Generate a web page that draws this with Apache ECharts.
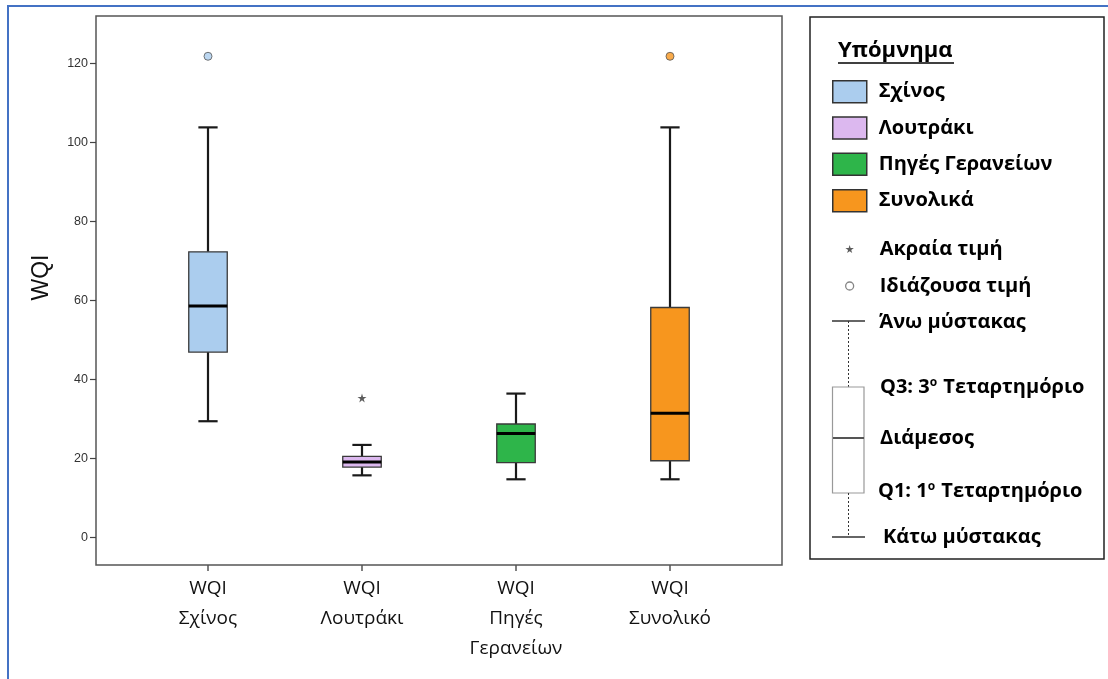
<!DOCTYPE html>
<html>
<head>
<meta charset="utf-8">
<script src="https://cdn.jsdelivr.net/npm/echarts@6/dist/echarts.min.js"></script>
<style>html,body{margin:0;padding:0;background:#fff;}#c{width:1108px;height:679px;}</style>
</head>
<body>
<div id="c"></div>
<script>
// ---- data ----
var categories = ['WQI\nΣχίνος', 'WQI\nΛουτράκι', 'WQI\nΠηγές\nΓερανείων', 'WQI\nΣυνολικό'];
var seriesNames = ['Σχίνος', 'Λουτράκι', 'Πηγές Γερανείων', 'Συνολικά'];
// [min, Q1, median, Q3, max]
var boxSchinos   = [29.4, 46.9, 58.6, 72.3, 103.8];
var boxLoutraki  = [15.7, 17.8, 19.1, 20.5, 23.4];
var boxGeraneia  = [14.7, 18.9, 26.3, 28.7, 36.4];
var boxTotal     = [14.7, 19.4, 31.4, 58.2, 103.8];
var outlierValues = [[0, 121.8], [3, 121.8]];   // Ιδιάζουσα τιμή
var extremeValues = [[1, 35.3]];                // Ακραία τιμή
var yTicks = [0, 20, 40, 60, 80, 100, 120];
var yMin = -7, yMax = 132;

var boxes = [boxSchinos, boxLoutraki, boxGeraneia, boxTotal];
var fills = ['#abcdee', '#dcb8ef', '#2eb54a', '#f7961e'];
var outlierColors = ['#abcdee', '#f7961e'];

var starPath = 'path://M50,0 L61,35 L98,35 L68,57 L79,91 L50,70 L21,91 L32,57 L2,35 L39,35 Z';

function renderBox(params, api) {
  var idx = api.value(0);
  var vmin = api.value(1), q1 = api.value(2), med = api.value(3), q3 = api.value(4), vmax = api.value(5);
  var band = api.size([1, 0])[0];
  var bw = band * 0.25;
  var cw = bw * 0.5;
  var pMin = api.coord([idx, vmin]), pQ1 = api.coord([idx, q1]), pMed = api.coord([idx, med]);
  var pQ3 = api.coord([idx, q3]), pMax = api.coord([idx, vmax]);
  var x = pMin[0];
  var fill = api.visual('color');
  var lw = 2.2, lc = '#1a1a1a';
  return {
    type: 'group',
    children: [
      {type: 'line', shape: {x1: x, y1: pQ1[1], x2: x, y2: pMin[1]}, style: {stroke: lc, lineWidth: lw}},
      {type: 'line', shape: {x1: x, y1: pQ3[1], x2: x, y2: pMax[1]}, style: {stroke: lc, lineWidth: lw}},
      {type: 'line', shape: {x1: x - cw / 2, y1: pMin[1], x2: x + cw / 2, y2: pMin[1]}, style: {stroke: lc, lineWidth: lw}},
      {type: 'line', shape: {x1: x - cw / 2, y1: pMax[1], x2: x + cw / 2, y2: pMax[1]}, style: {stroke: lc, lineWidth: lw}},
      {type: 'rect', shape: {x: x - bw / 2, y: pQ3[1], width: bw, height: pQ1[1] - pQ3[1]},
        style: {fill: fill, stroke: '#3a3a3a', lineWidth: 1.3}},
      {type: 'line', shape: {x1: x - bw / 2, y1: pMed[1], x2: x + bw / 2, y2: pMed[1]}, style: {stroke: '#000', lineWidth: 3}}
    ]
  };
}

var series = [];
for (var i = 0; i < 4; i++) {
  series.push({
    name: seriesNames[i],
    type: 'custom',
    xAxisIndex: 1, yAxisIndex: 1,
    renderItem: renderBox,
    itemStyle: {color: fills[i]},
    encode: {x: 0, y: [1, 2, 3, 4, 5]},
    data: [[i].concat(boxes[i])],
    z: 3
  });
}
series.push({
  name: 'Ιδιάζουσα τιμή',
  type: 'scatter',
  xAxisIndex: 1, yAxisIndex: 1,
  symbol: 'circle', symbolSize: 8,
  data: outlierValues.map(function (d, k) {
    return {value: d, itemStyle: {color: outlierColors[k], borderColor: '#555', borderWidth: 1}};
  }),
  z: 4
});
series.push({
  name: 'Ακραία τιμή',
  type: 'scatter',
  xAxisIndex: 1, yAxisIndex: 1,
  symbol: starPath, symbolSize: 9,
  itemStyle: {color: '#333'},
  data: extremeValues,
  z: 4
});

var LF = 'Open Sans';
var legendTextA = {fontFamily: LF, fontWeight: 'bold', fontSize: 20, color: '#000', lineHeight: 22, padding: [0, 0, 0, 7]};
var legendTextB = {fontFamily: LF, fontWeight: 'bold', fontSize: 20, color: '#000', lineHeight: 22, padding: [0, 0, 0, 8]};

function ltext(x, y, t) {
  return {type: 'text', x: x, y: y, silent: true,
    style: {text: t, fontFamily: LF, fontWeight: 'bold', fontSize: 20, fill: '#000', verticalAlign: 'middle', align: 'left',
      rich: {s: {fontSize: 12, fontFamily: LF, fontWeight: 'bold', fill: '#000', verticalAlign: 'top', padding: [0, 1, 9, 0]}}}};
}

var option = {
  backgroundColor: '#fff',
  animation: false,
  grid: [
    {left: 96, top: 16, width: 686, height: 549, show: true, borderColor: '#555', borderWidth: 1.5, backgroundColor: 'transparent'},
    {left: 131, top: 16, width: 616, height: 549}
  ],
  xAxis: [
    {gridIndex: 0, type: 'value', min: 0, max: 1, show: false},
    {gridIndex: 1, type: 'category', data: categories, boundaryGap: true, position: 'bottom',
      axisLine: {show: false, onZero: false},
      axisTick: {show: true, alignWithLabel: true, length: 6, lineStyle: {color: '#555', width: 1.5}},
      axisLabel: {margin: 9, fontFamily: 'Open Sans', fontSize: 19, color: '#111', lineHeight: 30, interval: 0}
    }
  ],
  yAxis: [
    {gridIndex: 0, type: 'value', min: yMin, max: yMax,
      name: 'WQI', nameLocation: 'middle', nameGap: 43, nameRotate: 90,
      nameTextStyle: {fontFamily: 'Liberation Sans', fontSize: 23, color: '#111', padding: [0, 0, 0, 26]},
      axisLine: {show: false},
      splitLine: {show: false},
      axisTick: {show: true, length: 6, customValues: yTicks, lineStyle: {color: '#444', width: 1.2}},
      axisLabel: {customValues: yTicks, margin: 8, fontFamily: 'Liberation Sans', fontSize: 12.5, color: '#333'}
    },
    {gridIndex: 1, type: 'value', min: yMin, max: yMax, show: false, splitLine: {show: false}}
  ],
  legend: [
    {
      orient: 'vertical', left: 832, top: 80, padding: 0, itemWidth: 34, itemHeight: 22, itemGap: 12.8,
      selectedMode: false,
      textStyle: legendTextA,
      data: seriesNames.map(function (n, k) {
        return {name: n, icon: 'rect', itemStyle: {color: fills[k], borderColor: '#333', borderWidth: 1.5}};
      })
    },
    {
      orient: 'vertical', left: 840, top: 233, itemWidth: 34, itemHeight: 8, itemGap: 15,
      selectedMode: false,
      textStyle: legendTextB,
      data: [
        {name: 'Ακραία τιμή', icon: starPath, itemStyle: {color: '#333', borderWidth: 0}},
        {name: 'Ιδιάζουσα τιμή', icon: 'circle', itemStyle: {color: '#fff', borderColor: '#666', borderWidth: 1.3}}
      ]
    }
  ],
  graphic: [
    {type: 'rect', shape: {x: 8, y: 6, width: 1200, height: 800}, style: {fill: 'none', stroke: '#4472c4', lineWidth: 2}, silent: true},
    {type: 'rect', shape: {x: 810, y: 17, width: 294, height: 542}, style: {fill: 'none', stroke: '#222', lineWidth: 1.5}, silent: true},
    {type: 'text', x: 838, y: 51, silent: true, style: {text: 'Υπόμνημα', fontFamily: LF, fontWeight: 'bold', fontSize: 22, fill: '#000', verticalAlign: 'middle'}},
    {type: 'line', shape: {x1: 838, y1: 63, x2: 954, y2: 63}, style: {stroke: '#000', lineWidth: 1.5}},
    // whisker diagram
    {type: 'line', shape: {x1: 832, y1: 321, x2: 865, y2: 321}, style: {stroke: '#333', lineWidth: 1.5}},
    {type: 'line', shape: {x1: 848.5, y1: 321, x2: 848.5, y2: 387}, style: {stroke: '#333', lineWidth: 1, lineDash: [2, 2]}},
    {type: 'rect', shape: {x: 832.5, y: 387, width: 31.5, height: 106}, style: {fill: '#fff', stroke: '#999', lineWidth: 1.2}},
    {type: 'line', shape: {x1: 833, y1: 438, x2: 864, y2: 438}, style: {stroke: '#555', lineWidth: 2}},
    {type: 'line', shape: {x1: 848.5, y1: 493, x2: 848.5, y2: 537}, style: {stroke: '#333', lineWidth: 1, lineDash: [2, 2]}},
    {type: 'line', shape: {x1: 832, y1: 537, x2: 865, y2: 537}, style: {stroke: '#333', lineWidth: 1.5}},
    ltext(879, 322, 'Άνω μύστακας'),
    ltext(880, 387, 'Q3: 3{s|ο} Τεταρτημόριο'),
    ltext(880, 438, 'Διάμεσος'),
    ltext(878, 491, 'Q1: 1{s|ο} Τεταρτημόριο'),
    ltext(883, 537, 'Κάτω μύστακας')
  ],
  series: series
};

var chart = echarts.init(document.getElementById('c'), null, {renderer: 'canvas'});
chart.setOption(option);
</script>
</body>
</html>
